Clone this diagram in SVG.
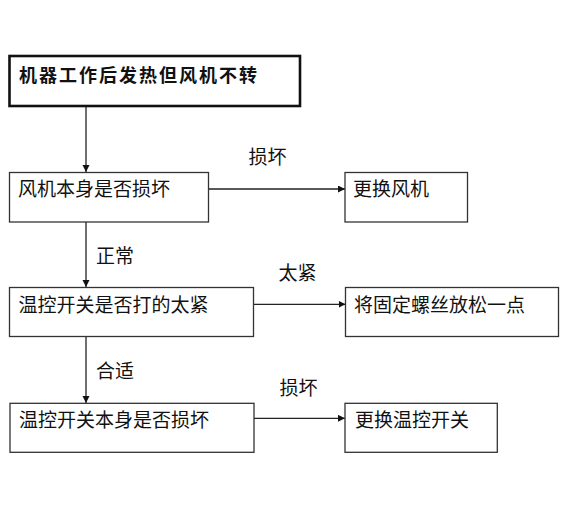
<svg xmlns="http://www.w3.org/2000/svg" width="563" height="506" viewBox="0 0 563 506">
<defs>
<marker id="arr" markerUnits="userSpaceOnUse" markerWidth="8" markerHeight="8" refX="7" refY="3.5" orient="auto">
<path d="M0,0 L7,3.5 L0,7 z" fill="#111"/>
</marker>
<style>
.box{fill:#fff;stroke:#333;stroke-width:1.3}
.main{fill:#fff;stroke:#111;stroke-width:2.6}
.t{font-family:"Noto Sans CJK SC","Noto Sans CJK JP",sans-serif;font-size:19px;fill:#111}
.tb{font-family:"Noto Sans CJK SC","Noto Sans CJK JP",sans-serif;font-size:18px;font-weight:bold;letter-spacing:2px;fill:#111}
.c{stroke:#222;stroke-width:1.3;fill:none;marker-end:url(#arr)}
</style>
</defs>
<rect width="563" height="506" fill="#fff"/>
<g id="connectors">
<line class="c" x1="86" y1="106" x2="86" y2="172"/>
<line class="c" x1="208.5" y1="189" x2="345" y2="189"/>
<line class="c" x1="86" y1="222" x2="86" y2="287"/>
<line class="c" x1="253.5" y1="304.3" x2="345.5" y2="304.3"/>
<line class="c" x1="86" y1="336.5" x2="86" y2="403"/>
<line class="c" x1="254" y1="418.3" x2="345" y2="418.3"/>
<text class="t" x="248.5" y="163.5">损坏</text>
<text class="t" x="96" y="263">正常</text>
<text class="t" x="278.5" y="279.5">太紧</text>
<text class="t" x="96" y="378">合适</text>
<text class="t" x="279.5" y="394.5">损坏</text>
</g>
<g id="start">
<rect class="main" x="9.5" y="56" width="290.5" height="50"/>
<text class="tb" x="19" y="82">机器工作后发热但风机不转</text>
</g>
<g id="fan_check">
<rect class="box" x="9.5" y="172.5" width="199" height="49.5"/>
<text class="t" x="18" y="196">风机本身是否损坏</text>
</g>
<g id="replace_fan">
<rect class="box" x="345" y="172.5" width="122.5" height="49.5"/>
<text class="t" x="353" y="196">更换风机</text>
</g>
<g id="tight_check">
<rect class="box" x="9.5" y="287.5" width="244" height="49"/>
<text class="t" x="18.5" y="311.5">温控开关是否打的太紧</text>
</g>
<g id="loosen">
<rect class="box" x="345.5" y="287.5" width="213" height="49"/>
<text class="t" x="354" y="311.5">将固定螺丝放松一点</text>
</g>
<g id="switch_check">
<rect class="box" x="10" y="403.3" width="244" height="49"/>
<text class="t" x="19" y="426.5">温控开关本身是否损坏</text>
</g>
<g id="replace_switch">
<rect class="box" x="345" y="403.3" width="152.3" height="49"/>
<text class="t" x="355" y="426.5">更换温控开关</text>
</g>
</svg>
